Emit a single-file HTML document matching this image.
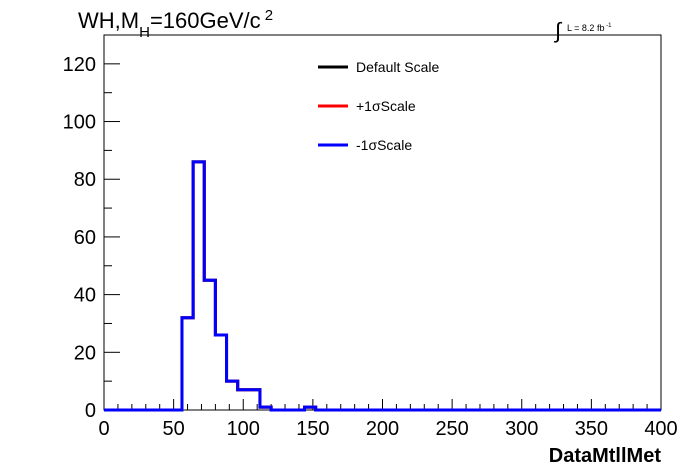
<!DOCTYPE html>
<html><head><meta charset="utf-8"><style>
body{margin:0;background:#fff;}
svg{display:block;font-family:"Liberation Sans",sans-serif;}
</style></head><body>
<svg id="chart" width="696" height="472" viewBox="0 0 696 472">
<rect width="696" height="472" fill="#fff"/>
<g id="axes"></g>
<g id="marks"></g>
<text x="78" y="28" font-size="22">WH,M<tspan font-size="15" dy="9">H</tspan><tspan dy="-9">=160GeV/c</tspan><tspan font-size="15" dy="-8"> 2</tspan></text>
<text x="555" y="38" font-size="22">∫</text>
<text x="567" y="31" font-size="9">L = 8.2 fb<tspan font-size="6" dy="-4"> -1</tspan></text>
<text x="661" y="462" font-size="20" font-weight="bold" text-anchor="end">DataMtllMet</text>
<g>
<line x1="318" y1="67" x2="348" y2="67" stroke="#000" stroke-width="3"/>
<text x="356" y="72" font-size="14">Default Scale</text>
<line x1="318" y1="106" x2="348" y2="106" stroke="#f00" stroke-width="3"/>
<text x="356" y="111" font-size="14">+1σScale</text>
<line x1="318" y1="145" x2="348" y2="145" stroke="#00f" stroke-width="3"/>
<text x="356" y="150" font-size="14">-1σScale</text>
</g>
</svg>
<script>
const binEdgesStart = 0;
const binWidth = 8;
const counts = [0,0,0,0,0,0,0,32,86,45,26,10,7,7,1,0,0,0,1,0,0,0,0,0,0,0,0,0,0,0,0,0,0,0,0,0,0,0,0,0,0,0,0,0,0,0,0,0,0,0];
const xTicks = [0,50,100,150,200,250,300,350,400];
const yTicks = [0,20,40,60,80,100,120];
const L=104,R=661,T=35,B=410,xMax=400,yMax=130;
const xs=v=>L+(v/xMax)*(R-L);
const ys=v=>B-(v/yMax)*(B-T);
const NS="http://www.w3.org/2000/svg";
const axes=document.getElementById('axes'),marks=document.getElementById('marks');
function mk(tag,attrs,parent){const e=document.createElementNS(NS,tag);for(const k in attrs)e.setAttribute(k,attrs[k]);parent.appendChild(e);return e;}
const frame=mk('rect',{x:L,y:T,width:R-L,height:B-T,fill:'none',stroke:'#000','stroke-width':1},axes);


for(let v=0;v<=xMax;v+=10){const major=v%50===0;const t=mk('line',{x1:xs(v),x2:xs(v),y1:B,y2:B-(major?11:6),stroke:'#000'},axes);

}
xTicks.forEach(v=>{const t=mk('text',{x:xs(v),y:B+25,'font-size':20,'text-anchor':'middle'},axes);t.textContent=v;

});
for(let v=0;v<=yMax;v+=10){const major=v%20===0;const t=mk('line',{x1:L,x2:L+(major?16:8),y1:ys(v),y2:ys(v),stroke:'#000'},axes);

}
yTicks.forEach(v=>{const t=mk('text',{x:L-8,y:ys(v)+7,'font-size':20,'text-anchor':'end'},axes);t.textContent=v;

});
function pathFor(){let d='M'+xs(binEdgesStart)+','+ys(counts[0]);counts.forEach((c,i)=>{const x0=binEdgesStart+i*binWidth;d+=' L'+xs(x0)+','+ys(c)+' L'+xs(x0+binWidth)+','+ys(c);});return d;}
[['#000','series-default'],['#f00','series-plus-1sigma'],['#00f','series-minus-1sigma']].forEach(([col,n])=>{
const p=mk('path',{d:pathFor(),fill:'none',stroke:col,'stroke-width':3},marks);

});
</script>
</body></html>
